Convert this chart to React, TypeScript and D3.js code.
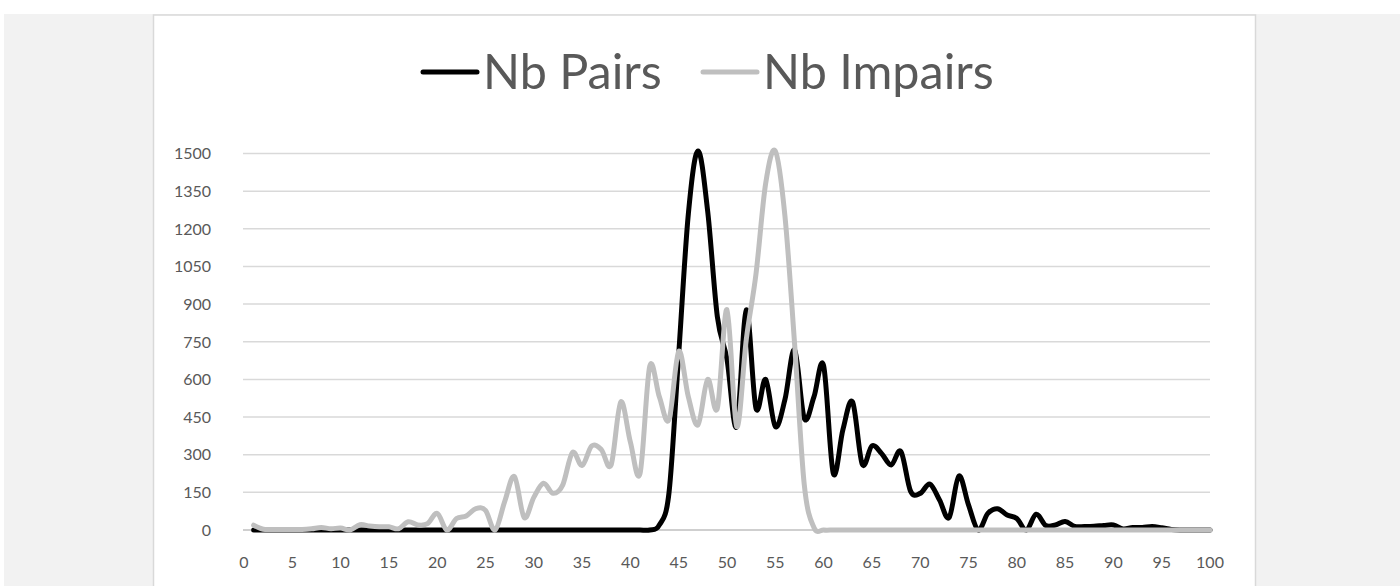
import React from "react";
import * as d3 from "d3";

const xCategories: number[] = d3.range(1, 101);
const xTickLabels: number[] = [0, 5, 10, 15, 20, 25, 30, 35, 40, 45, 50, 55, 60, 65, 70, 75, 80, 85, 90, 95, 100];
const yTickLabels: number[] = [0, 150, 300, 450, 600, 750, 900, 1050, 1200, 1350, 1500];

const nbPairs: number[] = [
  0, 0, 0, 0, 0, 0, 0, 0, 0, 0,
  0, 0, 0, 0, 0, 0, 0, 0, 0, 0,
  0, 0, 0, 0, 0, 0, 0, 0, 0, 0,
  0, 0, 0, 0, 0, 0, 0, 0, 0, 0,
  0, 0, 20, 150, 700, 1260, 1510, 1270, 850, 680,
  412, 877, 485, 600, 412, 520, 718, 445, 530, 655,
  226, 400, 510, 262, 335, 305, 259, 313, 155, 146,
  183, 120, 50, 215, 100, 0, 66, 85, 60, 46,
  0, 63, 18, 20, 34, 14, 14, 15, 18, 20,
  4, 10, 10, 14, 9, 2, 0, 0, 0, 0,
];

const nbImpairs: number[] = [
  19, 3, 2, 2, 2, 2, 5, 10, 5, 8,
  0, 21, 16, 13, 13, 5, 33, 20, 25, 66,
  0, 46, 56, 85, 78, 0, 115, 213, 50, 130,
  186, 146, 180, 309, 257, 335, 320, 259, 510, 350,
  226, 652, 530, 440, 712, 530, 419, 600, 485, 878,
  412, 760, 1020, 1380, 1510, 1250, 740, 180, 10, 0,
  0, 0, 0, 0, 0, 0, 0, 0, 0, 0,
  0, 0, 0, 0, 0, 0, 0, 0, 0, 0,
  0, 0, 0, 0, 0, 0, 0, 0, 0, 0,
  0, 0, 0, 0, 0, 0, 0, 0, 0, 0,
];

const seriesNames = ["Nb Pairs", "Nb Impairs"];
const seriesColors = ["#000000", "#bfbfbf"];

export default function App() {
  const W = 1400;
  const H = 586;
  const x = d3.scaleLinear().domain([0, 100]).range([244, 1210]);
  const y = d3.scaleLinear().domain([0, 1500]).range([530, 153.5]);
  const line = d3
    .line<number>()
    .x((_, i) => x(xCategories[i]))
    .y((d) => y(d))
    .curve(d3.curveCardinal.tension(0));

  const font = "Lato, 'Open Sans', sans-serif";
  const textColor = "#595959";

  return (
    <svg
      width={W}
      height={H}
      style={{ position: "absolute", left: 0, top: 0, display: "block" }}
    >
      <rect x={0} y={0} width={W} height={H} fill="#ffffff" />
      <rect x={4} y={14} width={W - 4} height={H - 14} fill="#f2f2f2" />
      <rect x={153.5} y={15} width={1102} height={H} fill="#ffffff" stroke="#d9d9d9" strokeWidth={1.5} />

      {yTickLabels.map((v) => (
        <line
          key={"g" + v}
          x1={243}
          x2={1210}
          y1={y(v)}
          y2={y(v)}
          stroke={v === 0 ? "#bfbfbf" : "#d9d9d9"}
          strokeWidth={1.5}
        />
      ))}

      {yTickLabels.map((v) => (
        <text
          key={"yl" + v}
          x={211}
          y={y(v)}
          dy="0.36em"
          textAnchor="end"
          fontFamily={font}
          fontSize={16}
          fill={textColor}
        >
          {v}
        </text>
      ))}

      {xTickLabels.map((v) => (
        <text
          key={"xl" + v}
          x={x(v)}
          y={562}
          dy="0.36em"
          textAnchor="middle"
          fontFamily={font}
          fontSize={16}
          fill={textColor}
        >
          {v}
        </text>
      ))}

      <path d={line(nbPairs) || ""} fill="none" stroke={seriesColors[0]} strokeWidth={5} strokeLinejoin="round" strokeLinecap="round" />
      <path d={line(nbImpairs) || ""} fill="none" stroke={seriesColors[1]} strokeWidth={5} strokeLinejoin="round" strokeLinecap="round" />

      <g>
        <line x1={423} x2={477} y1={72} y2={72} stroke={seriesColors[0]} strokeWidth={5} strokeLinecap="round" />
        <text x={483} y={72} dy="0.36em" fontFamily={font} fontSize={48.5} fill={textColor}>
          {seriesNames[0]}
        </text>
        <line x1={703} x2={757} y1={72} y2={72} stroke={seriesColors[1]} strokeWidth={5} strokeLinecap="round" />
        <text x={763} y={72} dy="0.36em" fontFamily={font} fontSize={48.5} fill={textColor}>
          {seriesNames[1]}
        </text>
      </g>
    </svg>
  );
}
